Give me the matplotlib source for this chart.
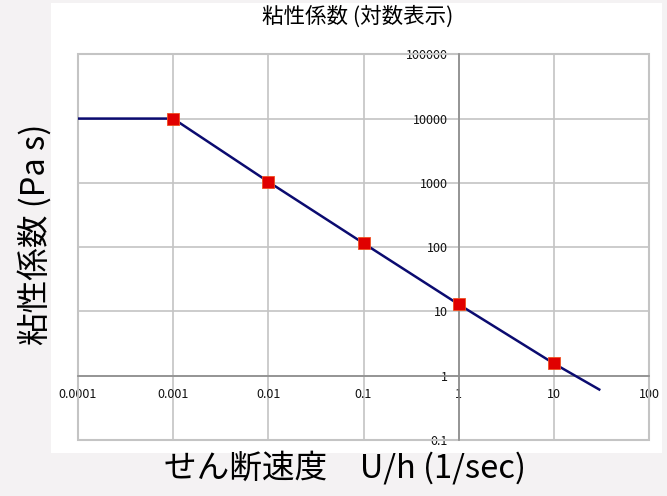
import matplotlib.pyplot as plt
from matplotlib.patches import Rectangle
import numpy as np

plt.rcParams['font.family'] = ['Noto Sans CJK JP', 'DejaVu Sans']

# データ
shear_rate = [0.0001, 0.001, 0.01, 0.1, 1, 10, 30]
viscosity = [10000, 10000, 1040, 115, 12.9, 1.55, 0.61]
mark_x = [0.001, 0.01, 0.1, 1, 10]
mark_y = [10000, 1040, 115, 12.9, 1.55]

x_ticks = [0.0001, 0.001, 0.01, 0.1, 1, 10, 100]
x_labels = ["0.0001", "0.001", "0.01", "0.1", "1", "10", "100"]
y_ticks = [0.1, 1, 10, 100, 1000, 10000, 100000]
y_labels = ["0.1", "1", "10", "100", "1000", "10000", "100000"]

fig = plt.figure(figsize=(6.67, 4.96), dpi=100)
fig.patch.set_facecolor('#f4f2f3')

# 白いチャート領域
fig.patches.append(Rectangle((51 / 667, 1 - 453 / 496), (662 - 51) / 667, (453 - 3) / 496,
                             transform=fig.transFigure, facecolor='white', edgecolor='none', zorder=0))

ax = fig.add_axes([78 / 667, 1 - 440 / 496, (649 - 78) / 667, (440 - 54.3) / 496])
ax.set_zorder(2)
ax.set_facecolor('white')
ax.set_xscale('log')
ax.set_yscale('log')
ax.set_xlim(0.0001, 100)
ax.set_ylim(0.1, 100000)

ax.grid(True, which='major', color='#c4c4c4', linewidth=1.2)
ax.minorticks_off()
ax.set_axisbelow(True)

# 軸を x=1, y=1 で交差させる
for s in ['top', 'right']:
    ax.spines[s].set_visible(False)
ax.spines['left'].set_position(('data', 1))
ax.spines['bottom'].set_position(('data', 1))
ax.spines['left'].set_color('#8c8c8c')
ax.spines['bottom'].set_color('#8c8c8c')
ax.spines['left'].set_linewidth(1.2)
ax.spines['bottom'].set_linewidth(1.2)

ax.add_patch(Rectangle((0, 0), 1, 1, transform=ax.transAxes, fill=False,
                       edgecolor='#c4c4c4', linewidth=1.5, clip_on=False, zorder=1))

ax.set_xticks(x_ticks)
ax.set_xticklabels(x_labels, fontsize=9)
ax.set_yticks(y_ticks)
ax.set_yticklabels(y_labels, fontsize=9)
ax.tick_params(axis='both', length=0, labelcolor='#111111')
ax.tick_params(axis='x', pad=9)
ax.tick_params(axis='y', pad=8)

ax.plot(shear_rate, viscosity, color='#0b0b70', linewidth=1.8, zorder=3)
ax.plot(mark_x, mark_y, linestyle='none', marker='s', markersize=9,
        markerfacecolor='#e00000', markeredgecolor='#f05020', markeredgewidth=0.6, zorder=4)

fig.text(358 / 667, 1 - 17 / 496, "粘性係数 (対数表示)", fontsize=15.5, ha='center', va='center')
fig.text(35 / 667, 1 - 234 / 496, "粘性係数 (Pa s)", fontsize=23.5, rotation=90, ha='center', va='center')
fig.text(345 / 667, 1 - 468 / 496, "せん断速度　U/h (1/sec)", fontsize=23.5, ha='center', va='center')

fig.savefig("out.png", dpi=100, facecolor=fig.get_facecolor())
